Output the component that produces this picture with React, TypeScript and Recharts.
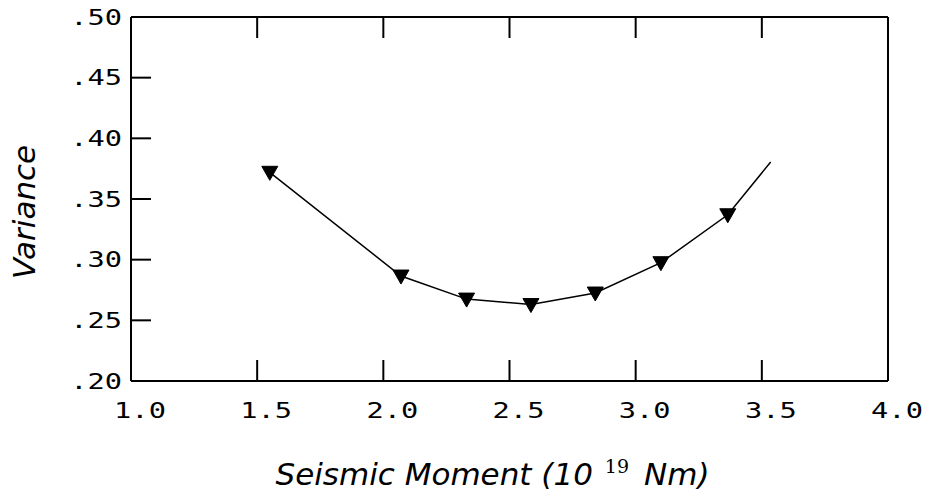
import React from 'react';
import { LineChart, Line, XAxis, YAxis, Label } from 'recharts';

// seismic moment (10^19 Nm) and variance
const moment = [1.55, 2.07, 2.33, 2.585, 2.84, 3.1, 3.365, 3.535];
const variance = [0.372, 0.2865, 0.2675, 0.263, 0.2725, 0.2975, 0.337, 0.3805];
// the last point is only the end of the curve, it has no marker
const markedCount = 7;

const xTicks = [1.0, 1.5, 2.0, 2.5, 3.0, 3.5, 4.0];
const yTicks = [0.2, 0.25, 0.3, 0.35, 0.4, 0.45, 0.5];

const data = moment.map((m, i) => ({ moment: m, variance: variance[i] }));

const monoFont = '"DejaVu Sans Mono", monospace';
const labelFont = '"DejaVu Sans", sans-serif';
const TICK_X = 21;
const TICK_Y = 20;

const fmtY = (v: number) => v.toFixed(2).replace(/^0/, '');
const fmtX = (v: number) => v.toFixed(1);

// plotter style digits: wide monospace
function TickText({ x, y, anchor, children }: any) {
  return (
    <text
      transform={`translate(${x},${y}) scale(1.4,1)`}
      textAnchor={anchor}
      fontFamily={monoFont}
      fontSize={20.5}
      fill="#000"
    >
      {children}
    </text>
  );
}

function BottomTick(props: any) {
  const { x, y, payload } = props;
  return (
    <g>
      <line x1={x} x2={x} y1={y} y2={y - TICK_X} stroke="#000" strokeWidth={2} />
      <TickText x={x + 9} y={y + 37} anchor="middle">{fmtX(payload.value)}</TickText>
    </g>
  );
}

function TopTick(props: any) {
  const { x, y } = props;
  return <line x1={x} x2={x} y1={y} y2={y + TICK_X} stroke="#000" strokeWidth={2} />;
}

function LeftTick(props: any) {
  const { x, y, payload } = props;
  return (
    <g>
      <line x1={x} x2={x + TICK_Y} y1={y} y2={y} stroke="#000" strokeWidth={2} />
      <TickText x={x - 9} y={y + 7.5} anchor="end">{fmtY(payload.value)}</TickText>
    </g>
  );
}

function RightTick(props: any) {
  const { x, y } = props;
  return <line x1={x} x2={x - TICK_Y} y1={y} y2={y} stroke="#000" strokeWidth={2} />;
}

function Triangle(props: any) {
  const { cx, cy, index } = props;
  if (index >= markedCount || cx == null) return <g key={`d${index}`} />;
  const w = 8;
  return (
    <path
      key={`d${index}`}
      d={`M${cx - w},${cy - 6} L${cx + w},${cy - 6} L${cx},${cy + 8} Z`}
      fill="#000"
      stroke="#000"
      strokeWidth={1}
    />
  );
}

function XTitle(props: any) {
  const { x, width } = props.viewBox;
  return (
    <text
      x={x + width / 2 - 17}
      y={485}
      textAnchor="middle"
      fontFamily={labelFont}
      fontStyle="italic"
      fontSize={31}
      fill="#000"
    >
      <tspan>Seismic Moment (10</tspan>
      <tspan dx={12} dy={-12} fontSize={19} fontStyle="normal" fontFamily='"DejaVu Serif", serif'>19</tspan>
      <tspan dx={15} dy={12}>Nm)</tspan>
    </text>
  );
}

function YTitle() {
  return (
    <text
      x={0}
      y={0}
      transform="translate(35,212) rotate(-90)"
      textAnchor="middle"
      fontFamily={labelFont}
      fontStyle="italic"
      fontSize={31}
      fill="#000"
    >
      Variance
    </text>
  );
}

export default function App() {
  return (
    <div style={{ position: 'absolute', left: 0, top: 0, background: '#fff' }}>
      <LineChart width={925} height={498} data={data} margin={{ top: 16, right: 36, bottom: 77, left: 71 }}>
        <XAxis
          xAxisId="bottom"
          dataKey="moment"
          type="number"
          domain={[1, 4]}
          ticks={xTicks}
          interval={0}
          height={40}
          stroke="#000"
          strokeWidth={2}
          tickSize={0}
          tickMargin={0}
          tickLine={false}
          tick={BottomTick}
        >
          <Label content={XTitle} />
        </XAxis>
        <XAxis
          xAxisId="top"
          orientation="top"
          dataKey="moment"
          type="number"
          domain={[1, 4]}
          ticks={xTicks}
          interval={0}
          height={1}
          stroke="#000"
          strokeWidth={2}
          tickSize={0}
          tickMargin={0}
          tickLine={false}
          tick={TopTick}
        />
        <YAxis
          yAxisId="left"
          type="number"
          domain={[0.2, 0.5]}
          ticks={yTicks}
          interval={0}
          width={60}
          stroke="#000"
          strokeWidth={2}
          tickSize={0}
          tickMargin={0}
          tickLine={false}
          tick={LeftTick}
        >
          <Label content={YTitle} />
        </YAxis>
        <YAxis
          yAxisId="right"
          orientation="right"
          type="number"
          domain={[0.2, 0.5]}
          ticks={yTicks}
          interval={0}
          width={1}
          stroke="#000"
          strokeWidth={2}
          tickSize={0}
          tickMargin={0}
          tickLine={false}
          tick={RightTick}
        />
        <Line
          xAxisId="bottom"
          yAxisId="left"
          dataKey="variance"
          type="linear"
          stroke="#000"
          strokeWidth={1.5}
          dot={Triangle}
          activeDot={false}
          isAnimationActive={false}
        />
      </LineChart>
    </div>
  );
}
